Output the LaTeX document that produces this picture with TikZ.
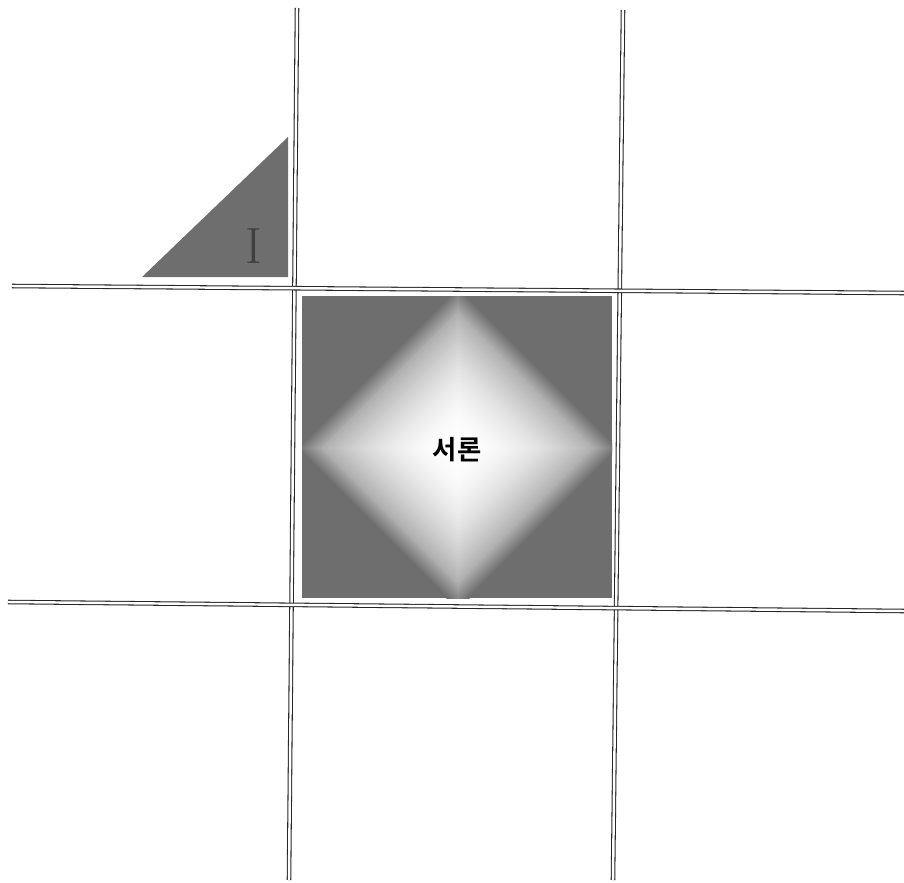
\documentclass[tikz,border=0pt]{standalone}
\usepackage{fontspec}
\newfontfamily\krfont{Noto Sans CJK KR}[BoldFont={Noto Sans CJK KR Bold}]
\usetikzlibrary{positioning}

\tikzset{
    gridline/.style={draw=black!85, line width=0.6pt, double=white, double distance=1.4pt},
    panel/.style={fill=black!57},
}

\begin{document}
\begin{tikzpicture}[x=0.02cm, y=-0.02cm]
    \useasboundingbox (0,0) rectangle (904,883);

    % corner triangle
    \fill[panel] (142,277) -- (288,277) -- (288,137) -- cycle;
    \node (numeral) at (254,246) {\fontsize{29}{30}\selectfont\color{black!75}I};

    % centre square with the diamond glow
    \begin{scope}
        \clip (302,296) rectangle (612,598);
        \fill[panel] (302,296) rectangle (612,598);
        \foreach \r in {162,159,...,138} {
            \pgfmathsetmacro{\p}{30+27*(\r-135)/27}
            \fill[black!\p] (458-\r,448) -- (458,448-\r) -- (458+\r,448) -- (458,448+\r) -- cycle;
        }
        \foreach \r in {135,131,...,3} {
            \pgfmathsetmacro{\p}{30*(\r/135)*(\r/135)}
            \fill[black!\p] (458-\r,448) -- (458,448-\r) -- (458+\r,448) -- (458,448+\r) -- cycle;
        }
    \end{scope}
    \node (title) at (457,450) {\krfont\bfseries\fontsize{15}{17}\selectfont 서론};

    % the grid
    \coordinate (v1top) at (297,8);
    \coordinate (v1bot) at (289,880);
    \coordinate (v2top) at (623,10);
    \coordinate (v2bot) at (613,880);
    \coordinate (h1left) at (12,286);
    \coordinate (h1right) at (904,293);
    \coordinate (h2left) at (8,602);
    \coordinate (h2right) at (904,611);
    \draw[gridline] (v1top) -- (v1bot);
    \draw[gridline] (v2top) -- (v2bot);
    \draw[gridline] (h1left) -- (h1right);
    \draw[gridline] (h2left) -- (h2right);
\end{tikzpicture}
\end{document}
